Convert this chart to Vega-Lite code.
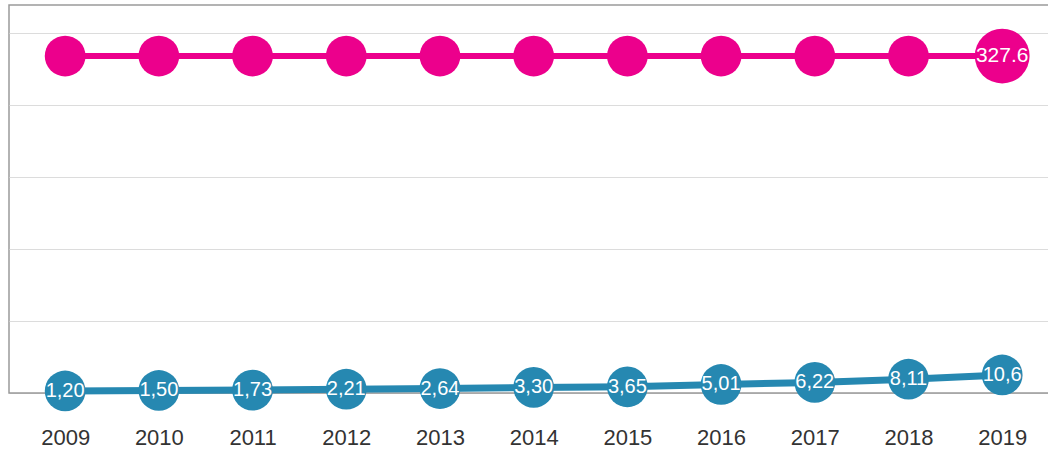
{
  "$schema": "https://vega.github.io/schema/vega-lite/v6.json",
  "width": 1042,
  "height": 388,
  "autosize": {"type": "none"},
  "padding": {"left": 9, "top": 5, "right": 0, "bottom": 66},
  "background": "white",
  "config": {
    "view": {"stroke": "#9a9a9a", "strokeWidth": 1.5},
    "font": "Liberation Sans"
  },
  "data": {
    "values": [
      {"year": "2009", "pink": 327.6, "blue": 1.20, "blueLabel": "1,20"},
      {"year": "2010", "pink": 327.6, "blue": 1.50, "blueLabel": "1,50"},
      {"year": "2011", "pink": 327.6, "blue": 1.73, "blueLabel": "1,73"},
      {"year": "2012", "pink": 327.6, "blue": 2.21, "blueLabel": "2,21"},
      {"year": "2013", "pink": 327.6, "blue": 2.64, "blueLabel": "2,64"},
      {"year": "2014", "pink": 327.6, "blue": 3.30, "blueLabel": "3,30"},
      {"year": "2015", "pink": 327.6, "blue": 3.65, "blueLabel": "3,65"},
      {"year": "2016", "pink": 327.6, "blue": 5.01, "blueLabel": "5,01"},
      {"year": "2017", "pink": 327.6, "blue": 6.22, "blueLabel": "6,22"},
      {"year": "2018", "pink": 327.6, "blue": 8.11, "blueLabel": "8,11"},
      {"year": "2019", "pink": 327.6, "blue": 10.6, "blueLabel": "10,6"}
    ]
  },
  "encoding": {
    "x": {
      "field": "year",
      "type": "ordinal",
      "scale": {"type": "point", "padding": 0.56, "align": 0.535},
      "axis": {
        "title": null,
        "labelAngle": 0,
        "ticks": false,
        "domain": false,
        "grid": false,
        "labelFontSize": 22,
        "labelColor": "#333333",
        "labelFont": "Liberation Sans",
        "labelPadding": 34
      }
    }
  },
  "layer": [
    {
      "encoding": {
        "y": {
          "field": "pink",
          "type": "quantitative",
          "scale": {"domain": [0, 377.2], "nice": false, "zero": true},
          "axis": {
            "title": null,
            "values": [0, 70, 140, 210, 280, 350],
            "labels": false,
            "ticks": false,
            "domain": false,
            "grid": true,
            "gridWidth": 1.2,
            "gridColor": {"condition": {"test": "datum.value === 0", "value": "#a8a8a8"}, "value": "#dcdcdc"}
          }
        }
      },
      "layer": [
        {"mark": {"type": "line", "color": "#EC008C", "strokeWidth": 6}},
        {
          "mark": {"type": "point", "filled": true, "color": "#EC008C", "opacity": 1, "shape": "circle"},
          "encoding": {
            "size": {"condition": {"test": "datum.year === '2019'", "value": 3000}, "value": 1660}
          }
        },
        {
          "transform": [{"filter": "datum.year === '2019'"}],
          "mark": {"type": "text", "color": "white", "fontSize": 21, "align": "center", "baseline": "middle", "font": "Liberation Sans"},
          "encoding": {"text": {"field": "pink", "type": "quantitative", "format": ".1f"}}
        }
      ]
    },
    {
      "encoding": {
        "y": {
          "field": "blue",
          "type": "quantitative",
          "scale": {"domain": [0, 228], "nice": false, "zero": true},
          "axis": null
        }
      },
      "layer": [
        {"mark": {"type": "line", "color": "#2688B1", "strokeWidth": 7}},
        {"mark": {"type": "point", "filled": true, "color": "#2688B1", "opacity": 1, "shape": "circle", "size": 1660}},
        {
          "mark": {"type": "text", "color": "white", "fontSize": 20, "align": "center", "baseline": "middle", "font": "Liberation Sans"},
          "encoding": {"text": {"field": "blueLabel", "type": "nominal"}}
        }
      ]
    }
  ],
  "resolve": {"scale": {"y": "independent"}}
}
